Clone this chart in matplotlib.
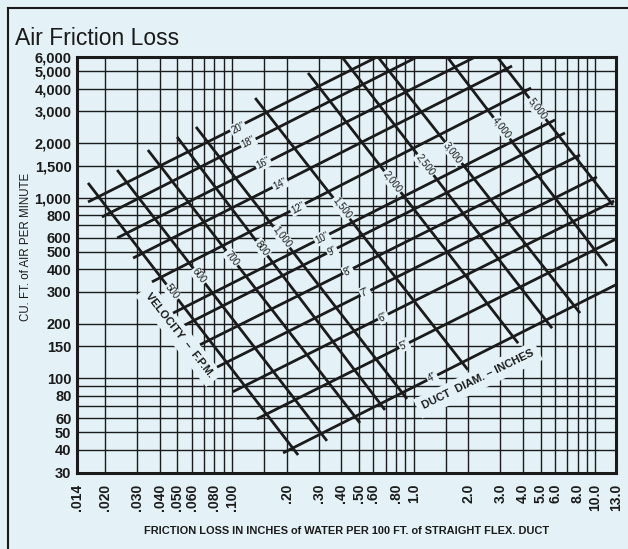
import matplotlib
matplotlib.use('Agg')
import matplotlib.pyplot as plt
from matplotlib.lines import Line2D

BG = '#e4f2f7'
INK = '#1b1b1b'
FONT = 'Liberation Sans'

# ---- axis ticks ----
x_ticks = [0.014, 0.020, 0.030, 0.040, 0.050, 0.060, 0.080, 0.100, 0.20, 0.30, 0.40, 0.50,
           0.60, 0.80, 1.0, 2.0, 3.0, 4.0, 5.0, 6.0, 8.0, 10.0, 13.0]
x_tick_labels = ['.014', '.020', '.030', '.040', '.050', '.060', '.080', '.100', '.20', '.30',
                 '.40', '.50', '.60', '.80', '1.0', '2.0', '3.0', '4.0', '5.0', '6.0', '8.0',
                 '10.0', '13.0']
y_ticks = [30, 40, 50, 60, 80, 100, 150, 200, 300, 400, 500, 600, 800, 1000, 1500, 2000,
           3000, 4000, 5000, 6000]
y_tick_labels = ['30', '40', '50', '60', '80', '100', '150', '200', '300', '400', '500', '600',
                 '800', '1,000', '1,500', '2,000', '3,000', '4,000', '5,000', '6,000']

# ---- grid lines ----
x_grid = [0.02, 0.03, 0.04, 0.05, 0.06, 0.07, 0.08, 0.09, 0.1, 0.15, 0.2, 0.3, 0.4, 0.5, 0.6,
          0.7, 0.8, 0.9, 1.0, 1.5, 2, 3, 4, 5, 6, 7, 8, 9, 10]
y_grid = [40, 50, 60, 70, 80, 90, 100, 150, 200, 300, 400, 500, 600, 700, 800, 900, 1000,
          1500, 2000, 3000, 4000, 5000]

# ---- duct diameter lines (rising) ----
duct_labels = ['20\u201d', '18\u201d', '16\u201d', '14\u201d', '12\u201d', '10\u201d', '9\u201d',
               '8\u201d', '7\u201d', '6\u201d', '5\u201d', '4\u201d']
duct_f_start = [0.0161, 0.0192, 0.0233, 0.0285, 0.0362, 0.0473, 0.0551, 0.0666, 0.0826, 0.101, 0.137, 0.191]
duct_q_start = [945, 780, 597, 462, 341, 229, 197, 153, 115, 84, 59.4, 38.5]
duct_f_end = [0.628, 1.043, 2.18, 3.48, 4.43, 6.00, 6.81, 8.24, 10.2, 12.7, 13.0, 13.0]
duct_q_end = [6000, 6000, 6000, 5350, 4040, 2690, 2280, 1720, 1300, 957, 589, 329]
duct_label_f = [0.1078, 0.1224, 0.148, 0.1837, 0.2307, 0.3128, 0.3552, 0.435, 0.5396, 0.678, 0.885, 1.261]
duct_label_q = [2427, 2030, 1553, 1188, 875, 597, 506, 392, 300, 218, 152.6, 101.4]

# ---- velocity lines (falling) ----
vel_labels = ['500', '600', '700', '800', '1,000', '1,500', '2,000', '2,500', '3,000', '4,000', '5,000']
vel_f_start = [0.0161, 0.0233, 0.0344, 0.0498, 0.0633, 0.134, 0.262, 0.403, 0.636, 1.53, 2.88]
vel_q_start = [1204, 1420, 1833, 2164, 2459, 3557, 4893, 6000, 6000, 6000, 6000]
vel_f_end = [0.231, 0.333, 0.506, 0.695, 0.919, 1.99, 3.76, 5.78, 8.24, 11.6, 12.5]
vel_q_end = [37.5, 44.9, 56.4, 66.6, 76.6, 111, 156, 189, 229, 418, 909]
vel_label_f = [0.0467, 0.0658, 0.0999, 0.1462, 0.1883, 0.4031, 0.76, 1.155, 1.647, 3.065, 4.777]
vel_label_q = [300, 368, 462, 525, 605, 875, 1219, 1514, 1764, 2427, 3092]

W, H = 628, 549
fig = plt.figure(figsize=(W / 100, H / 100), dpi=100, facecolor=BG)
ax = fig.add_axes([77 / W, 1 - 472.5 / H, (616 - 77) / W, (472.5 - 57) / H])
ax.set_facecolor(BG)
ax.set_xscale('log')
ax.set_yscale('log')
ax.set_xlim(0.014, 13.0)
ax.set_ylim(30, 6000)

for xv in x_grid:
    ax.axvline(xv, color=INK, lw=1.0, zorder=1)
for yv in y_grid:
    ax.axhline(yv, color=INK, lw=1.0, zorder=1)

for i in range(len(duct_labels)):
    ax.plot([duct_f_start[i], duct_f_end[i]], [duct_q_start[i], duct_q_end[i]],
            color=INK, lw=2.0, solid_capstyle='butt', zorder=3)
    ax.text(duct_label_f[i], duct_label_q[i], duct_labels[i], rotation=27,
            ha='center', va='center', fontsize=7, family=FONT, color=INK, zorder=5,
            bbox=dict(boxstyle='square,pad=0.12', fc=BG, ec='none'))

for i in range(len(vel_labels)):
    ax.plot([vel_f_start[i], vel_f_end[i]], [vel_q_start[i], vel_q_end[i]],
            color=INK, lw=2.0, solid_capstyle='butt', zorder=3)
    ax.text(vel_label_f[i], vel_label_q[i], vel_labels[i], rotation=-52,
            ha='center', va='center', fontsize=7, family=FONT, color=INK, zorder=5,
            bbox=dict(boxstyle='square,pad=0.12', fc=BG, ec='none'))

ax.text(0.051, 173, 'VELOCITY  \u2013  F.P.M.', rotation=-52, ha='center', va='center',
        fontsize=8, family=FONT, weight='bold', color=INK, zorder=2,
        bbox=dict(boxstyle='square,pad=0.5', fc=BG, ec='none'))
ax.text(2.26, 98, 'DUCT  DIAM. \u2013 INCHES', rotation=26, ha='center', va='center',
        fontsize=8, family=FONT, weight='bold', color=INK, zorder=2,
        bbox=dict(boxstyle='square,pad=0.5', fc=BG, ec='none'))

ax.set_xticks(x_ticks)
ax.set_xticklabels(x_tick_labels, rotation=90, fontsize=10, family=FONT, weight='bold', color=INK)
ax.set_yticks(y_ticks)
ax.set_yticklabels(y_tick_labels, fontsize=10.5, family=FONT, weight='bold', color=INK)
ax.minorticks_off()
ax.tick_params(axis='both', length=0)
ax.tick_params(axis='x', pad=8)
ax.tick_params(axis='y', pad=4)
for sp in ax.spines.values():
    sp.set_linewidth(2.2)
    sp.set_color(INK)
    sp.set_zorder(6)

fig.text(15 / W, 1 - 45 / H, 'Air Friction Loss', fontsize=16.5, family=FONT, color=INK,
         ha='left', va='baseline')
fig.text(26 / W, 1 - 247 / H, 'CU. FT. of AIR PER MINUTE', rotation=90, fontsize=8.3,
         family=FONT, color=INK, ha='center', va='center')
fig.text(347 / W, 1 - 531 / H, 'FRICTION LOSS IN INCHES of WATER PER 100 FT. of STRAIGHT FLEX. DUCT',
         fontsize=7.9, family=FONT, weight='bold', color=INK, ha='center', va='center')

# outer border
fig.add_artist(Line2D([8 / W, 8 / W], [0, 1 - 8 / H], transform=fig.transFigure, color=INK, lw=1.5))
fig.add_artist(Line2D([8 / W, 1], [1 - 8 / H, 1 - 8 / H], transform=fig.transFigure, color=INK, lw=1.5))

fig.savefig('out.png', dpi=100, facecolor=BG)
